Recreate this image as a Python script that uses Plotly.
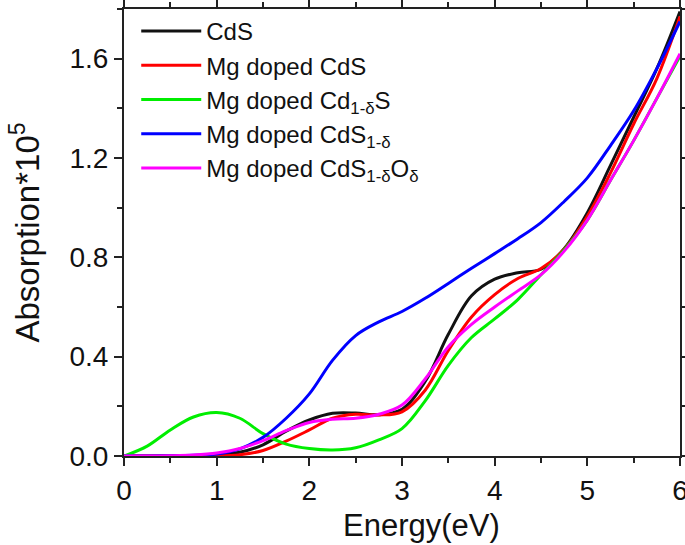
import plotly.graph_objects as go

energy = [0, 0.25, 0.5, 0.75, 1.0, 1.25, 1.5, 1.75, 2.0, 2.25, 2.5, 2.75, 3.0,
          3.25, 3.5, 3.75, 4.0, 4.25, 4.5, 4.75, 5.0, 5.25, 5.5, 5.75, 6.0]

cds = [0, 0, 0, 0, 0.003, 0.015, 0.045, 0.1, 0.145, 0.172, 0.173, 0.166, 0.188,
       0.3, 0.49, 0.645, 0.712, 0.738, 0.752, 0.835, 0.98, 1.17, 1.364, 1.56, 1.79]
mg_cds = [0, 0, 0, 0, 0, 0.005, 0.022, 0.06, 0.105, 0.152, 0.168, 0.165, 0.178,
          0.265, 0.425, 0.56, 0.65, 0.715, 0.755, 0.832, 0.965, 1.14, 1.337, 1.52, 1.77]
mg_cd1d_s = [0, 0.04, 0.105, 0.157, 0.175, 0.152, 0.09, 0.048, 0.03, 0.024, 0.033, 0.065, 0.11,
             0.222, 0.365, 0.477, 0.552, 0.63, 0.73, 0.83, 0.95, 1.11, 1.27, 1.44, 1.61]
mg_cds1d = [0, 0, 0.001, 0.003, 0.008, 0.029, 0.075, 0.152, 0.25, 0.385, 0.485, 0.54, 0.582,
            0.635, 0.695, 0.756, 0.815, 0.875, 0.94, 1.025, 1.12, 1.25, 1.39, 1.56, 1.75]
mg_cds1d_od = [0, 0, 0.001, 0.004, 0.012, 0.03, 0.062, 0.102, 0.135, 0.148, 0.152, 0.168, 0.205,
               0.31, 0.44, 0.53, 0.6, 0.665, 0.73, 0.825, 0.95, 1.11, 1.27, 1.44, 1.62]

names = ["CdS", "Mg doped CdS", "Mg doped Cd<sub>1-δ</sub>S",
         "Mg doped CdS<sub>1-δ</sub>", "Mg doped CdS<sub>1-δ</sub>O<sub>δ</sub>"]
series = [cds, mg_cds, mg_cd1d_s, mg_cds1d, mg_cds1d_od]
colors = ["#111111", "#ff0000", "#00ee00", "#0000ff", "#ff00ff"]

x_ticks = [0, 1, 2, 3, 4, 5, 6]
y_ticks = [0.0, 0.4, 0.8, 1.2, 1.6]
x_title = "Energy(eV)"
y_title = "Absorption*10<sup>5</sup>"

fig = go.Figure()
for name, ys, c in zip(names, series, colors):
    fig.add_trace(go.Scatter(x=energy, y=ys, name=name, mode="lines",
                             line=dict(color=c, width=3, shape="spline", smoothing=1.0)))

font_family = "Liberation Sans, Arial, sans-serif"
axis_common = dict(showline=True, linecolor="#222222", linewidth=2, mirror="ticks",
                   ticks="outside", ticklen=8, tickwidth=2, tickcolor="#222222",
                   showgrid=False, zeroline=False, automargin=False,
                   ticklabeloverflow="allow",
                   tickfont=dict(family=font_family, size=28, color="#111111"),
                   minor=dict(ticks="outside", ticklen=5, tickwidth=2, tickcolor="#222222", showgrid=False))

fig.update_xaxes(range=[0, 6], tickvals=x_ticks, ticktext=[str(v) for v in x_ticks],
                 minor_dtick=0.5, **axis_common)
fig.update_yaxes(range=[0, 1.8], tickvals=y_ticks, ticktext=[f"{v:.1f}" for v in y_ticks],
                 minor_dtick=0.2,
                 title=dict(text=y_title, font=dict(family=font_family, size=33, color="#111111"),
                            standoff=20),
                 **axis_common)

fig.add_annotation(text=x_title, xref="paper", yref="paper", x=0.535, y=-0.155,
                   xanchor="center", yanchor="middle", showarrow=False,
                   font=dict(family=font_family, size=31, color="#111111"))

fig.update_layout(
    width=685, height=545,
    margin=dict(l=124, r=5, t=9, b=89),
    plot_bgcolor="white", paper_bgcolor="white",
    font=dict(family=font_family, color="#111111"),
    legend=dict(x=0.022, y=1.0, xanchor="left", yanchor="top",
                bgcolor="rgba(0,0,0,0)", borderwidth=0,
                font=dict(family=font_family, size=24, color="#111111"),
                itemwidth=60, tracegroupgap=0),
)

fig.write_html("out.html", config={"displayModeBar": False},
               post_script="document.body.style.margin='0';document.body.style.overflow='hidden';")
